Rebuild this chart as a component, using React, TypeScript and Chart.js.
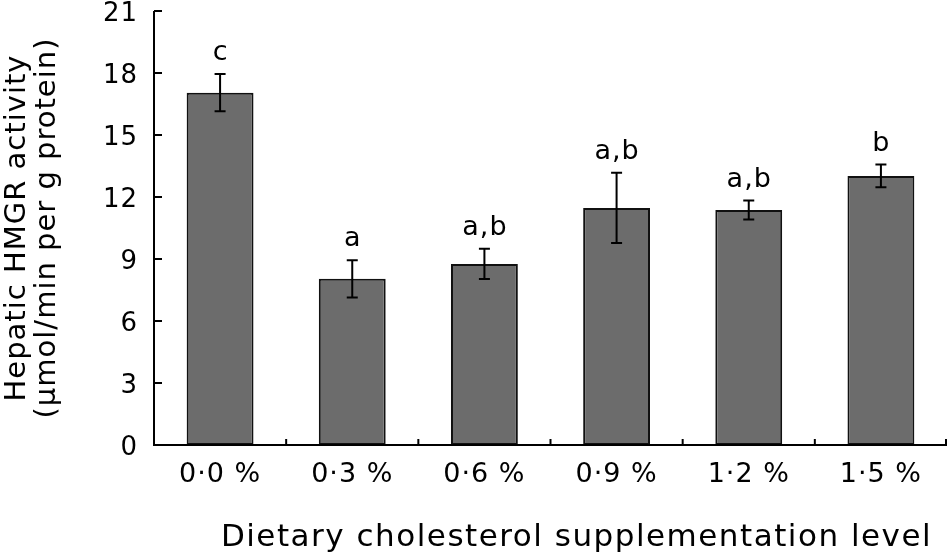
import React, { useEffect, useRef } from "react";
import { Chart, registerables } from "chart.js";

Chart.register(...registerables);

const categories = ["0·0 %", "0·3 %", "0·6 %", "0·9 %", "1·2 %", "1·5 %"];
const meanValues = [17.05, 8.04, 8.76, 11.47, 11.37, 13.02];
const errorValues = [0.9, 0.9, 0.73, 1.7, 0.46, 0.55];
const letterLabels = ["c", "a", "a,b", "a,b", "a,b", "b"];
const yTicks = [0, 3, 6, 9, 12, 15, 18, 21];
const xTitle = "Dietary cholesterol supplementation level";
const yTitle = ["Hepatic HMGR activity", "(µmol/min per g protein)"];

const FONT = "'DejaVu Sans', Verdana, sans-serif";
const SPACING = "1px";

const spacingPlugin = {
  id: "spacing",
  beforeLayout(chart: any) {
    chart.ctx.letterSpacing = SPACING;
  },
  beforeDraw(chart: any) {
    chart.ctx.letterSpacing = SPACING;
  },
};

const overlayPlugin = {
  id: "overlay",
  afterDatasetsDraw(chart: any) {
    const ctx = chart.ctx;
    const x = chart.scales.x;
    const y = chart.scales.y;
    const left = x.left;
    const right = x.right;
    ctx.save();
    ctx.strokeStyle = "#000";
    ctx.fillStyle = "#000";
    ctx.lineWidth = 2;
    ctx.beginPath();
    ctx.moveTo(left, y.getPixelForValue(21));
    ctx.lineTo(left, y.getPixelForValue(0));
    ctx.lineTo(right, y.getPixelForValue(0));
    ctx.stroke();
    yTicks.forEach((v) => {
      const py = y.getPixelForValue(v);
      ctx.beginPath();
      ctx.moveTo(left, py);
      ctx.lineTo(left + 8, py);
      ctx.stroke();
    });
    for (let i = 1; i <= categories.length; i++) {
      const px = i < categories.length
        ? (x.getPixelForValue(i - 1) + x.getPixelForValue(i)) / 2
        : right - 1;
      const py = y.getPixelForValue(0);
      ctx.beginPath();
      ctx.moveTo(px, py);
      ctx.lineTo(px, py - 6);
      ctx.stroke();
    }
    ctx.lineWidth = 2;
    ctx.font = `27px ${FONT}`;
    ctx.letterSpacing = SPACING;
    ctx.textAlign = "center";
    ctx.textBaseline = "alphabetic";
    meanValues.forEach((m, i) => {
      const px = x.getPixelForValue(i);
      const top = y.getPixelForValue(m + errorValues[i]);
      const bot = y.getPixelForValue(m - errorValues[i]);
      ctx.beginPath();
      ctx.moveTo(px, top);
      ctx.lineTo(px, bot);
      ctx.moveTo(px - 5.5, top);
      ctx.lineTo(px + 5.5, top);
      ctx.moveTo(px - 5.5, bot);
      ctx.lineTo(px + 5.5, bot);
      ctx.stroke();
      ctx.fillText(letterLabels[i], px + 0.5, top - 14);
    });
    // x axis title
    ctx.font = `31px ${FONT}`;
    ctx.letterSpacing = "1.5px";
    ctx.fillText(xTitle, (left + right) / 2 + 26, x.bottom - 6);
    ctx.restore();
  },
};

export default function App() {
  const ref = useRef<HTMLCanvasElement>(null);
  useEffect(() => {
    document.body.style.margin = "0";
    const chart = new Chart(ref.current as HTMLCanvasElement, {
      type: "bar",
      data: {
        labels: categories,
        datasets: [
          {
            data: meanValues,
            backgroundColor: "#6c6c6c",
            borderColor: "#111",
            borderWidth: 2,
            borderSkipped: false,
            barPercentage: 1,
            categoryPercentage: 0.506,
          },
        ],
      },
      options: {
        animation: false,
        responsive: false,
        devicePixelRatio: 1,
        layout: { padding: { top: 11, right: 2, left: 0, bottom: 0 } },
        plugins: { legend: { display: false }, tooltip: { enabled: false } },
        scales: {
          x: {
            grid: { display: false, drawTicks: false },
            border: { display: false },
            ticks: { color: "#000", font: { family: FONT, size: 27 }, padding: 14 },
            title: { display: false },
            afterFit: (s: any) => {
              s.height = 107;
              s.paddingLeft = 0;
              s.paddingRight = 0;
            },
          },
          y: {
            min: 0,
            max: 21,
            afterBuildTicks: (s: any) => {
              s.ticks = yTicks.map((v) => ({ value: v }));
            },
            grid: { display: false, drawTicks: false },
            border: { display: false },
            ticks: { color: "#000", font: { family: FONT, size: 26 }, padding: 16, labelOffset: 3 },
            title: {
              display: true,
              text: yTitle,
              color: "#000",
              font: { family: FONT, size: 29, lineHeight: 1.02 },
              padding: { top: 3, bottom: 0 },
            },
            afterFit: (s: any) => {
              s.width = 154;
              s.paddingTop = 0;
              s.paddingBottom = 0;
            },
          },
        },
      },
      plugins: [spacingPlugin, overlayPlugin],
    });
    return () => chart.destroy();
  }, []);
  return (
    <div style={{ position: "fixed", left: 0, top: 0, width: 949, height: 552, background: "#fff" }}>
      <canvas ref={ref} width={949} height={552} />
    </div>
  );
}
